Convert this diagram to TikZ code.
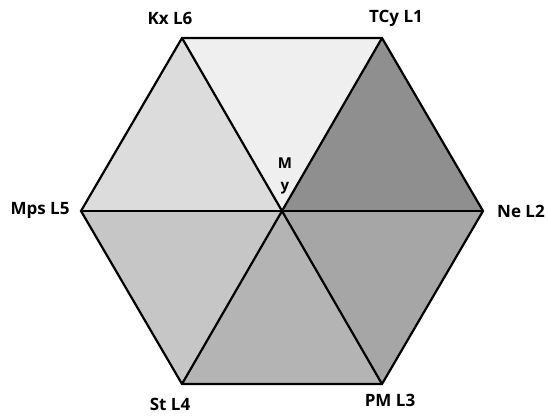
\documentclass[tikz,border=0pt]{standalone}
\usepackage{fontspec}
\setmainfont{Open Sans}
\begin{document}
\begin{tikzpicture}[x=1pt,y=-1pt,
  lbl/.style={font=\fontsize{17}{19}\selectfont\bfseries, inner sep=0pt},
  edge/.style={draw=black, line width=2.2pt, line join=miter}]
\useasboundingbox (0,0) rectangle (548,416);
\definecolor{sTop}{HTML}{EFEFEF}
\definecolor{sUR}{HTML}{8F8F8F}
\definecolor{sLR}{HTML}{A6A6A6}
\definecolor{sBot}{HTML}{B4B4B4}
\definecolor{sLL}{HTML}{C6C6C6}
\definecolor{sUL}{HTML}{DCDCDC}
% hexagon corners and centre
\coordinate (c) at (282,211);
\coordinate (v1) at (382,38);
\coordinate (v2) at (483,211);
\coordinate (v3) at (382,384);
\coordinate (v4) at (182,384);
\coordinate (v5) at (81,211);
\coordinate (v6) at (182,38);
% shaded sectors
\fill[sTop] (c) -- (v6) -- (v1) -- cycle;
\fill[sUR] (c) -- (v1) -- (v2) -- cycle;
\fill[sLR] (c) -- (v2) -- (v3) -- cycle;
\fill[sBot] (c) -- (v3) -- (v4) -- cycle;
\fill[sLL] (c) -- (v4) -- (v5) -- cycle;
\fill[sUL] (c) -- (v5) -- (v6) -- cycle;
% outline and spokes
\draw[edge] (v1) -- (v2) -- (v3) -- (v4) -- (v5) -- (v6) -- cycle;
\draw[edge] (v1) -- (v4);
\draw[edge] (v2) -- (v5);
\draw[edge] (v3) -- (v6);
% labels
\node[lbl] (l6) at (170,18) {Kx L6};
\node[lbl] (l1) at (396,18) {TCy L1};
\node[lbl] (l2) at (521,211) {Ne L2};
\node[lbl] (l3) at (390,400) {PM L3};
\node[lbl] (l4) at (170,404) {St L4};
\node[lbl] (l5) at (40,210) {Mps L5};
\node[lbl, align=center, font=\fontsize{15}{22}\selectfont\bfseries] (my) at (285,176) {M\\y};
\end{tikzpicture}
\end{document}
